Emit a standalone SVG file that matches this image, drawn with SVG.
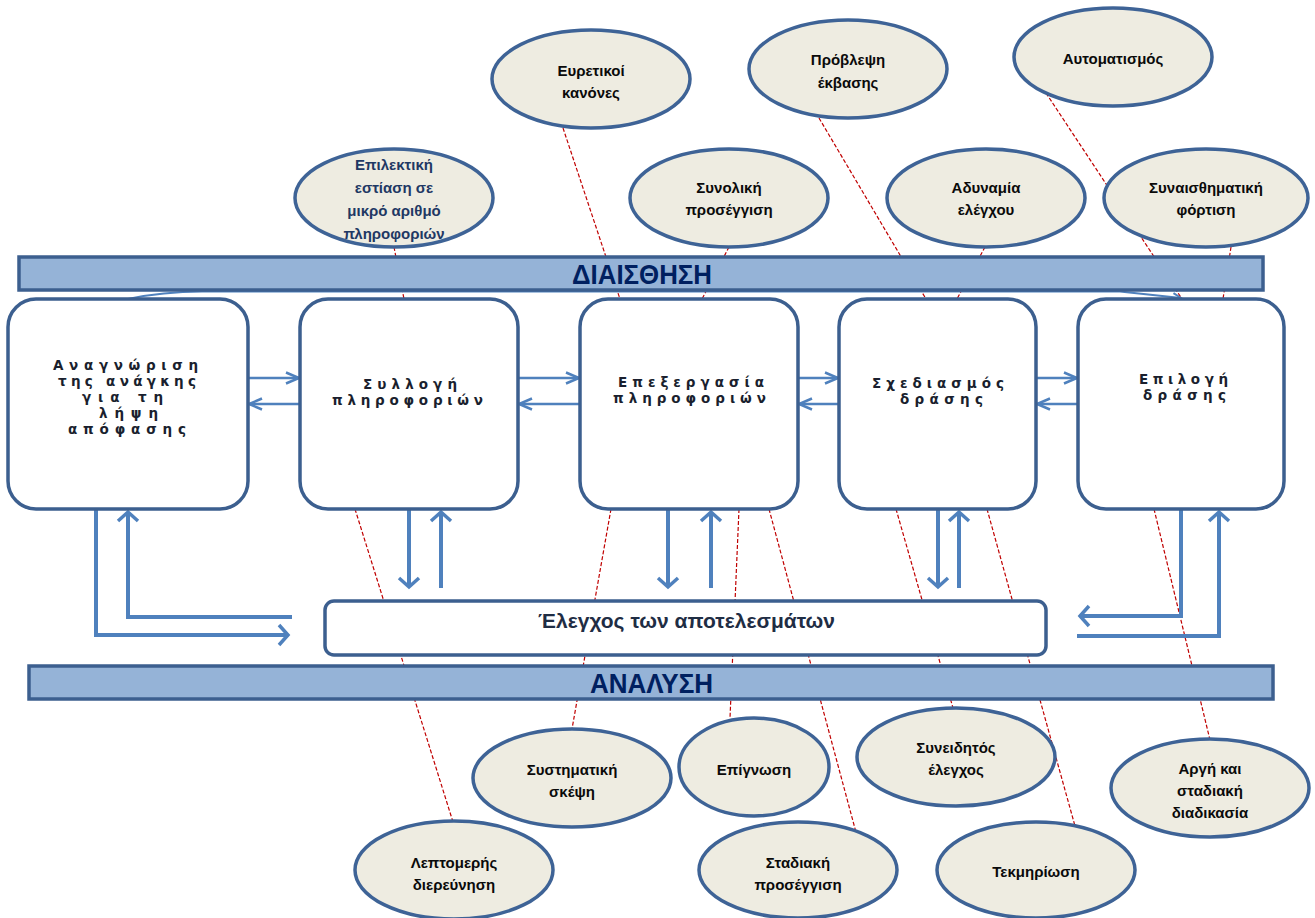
<svg xmlns="http://www.w3.org/2000/svg" width="1315" height="918" viewBox="0 0 1315 918">
  <defs>
    <style>
      .bar { fill: #95B3D7; stroke: #3C5F8F; stroke-width: 3.5; }
      .bar-label { font-family: "Liberation Sans", Arial, sans-serif; font-weight: bold; font-size: 28px; fill: #002060; }
      .step { fill: #FFFFFF; stroke: #3C5F8F; stroke-width: 3.5; }
      .step-label { font-family: "DejaVu Sans", Verdana, sans-serif; font-weight: bold; font-size: 13.5px; fill: #1A1F2E; }
      .check { fill: #FFFFFF; stroke: #3C5F8F; stroke-width: 3.5; }
      .check-label { font-family: "Liberation Sans", Arial, sans-serif; font-weight: bold; font-size: 21px; fill: #1F2D44; }
      .trait { fill: #EEECE1; stroke: #3E6396; stroke-width: 3.5; }
      .trait-label { font-family: "Liberation Sans", Arial, sans-serif; font-weight: bold; font-size: 15px; fill: #0A0A0A; text-anchor: middle; }
      .trait-label.navy { fill: #1F3864; }
      .flow { fill: none; stroke: #4F81BD; stroke-width: 2.5; }
      .flow-thick { fill: none; stroke: #4F81BD; stroke-width: 4; }
      .flow-thin { fill: none; stroke: #4F81BD; stroke-width: 2; }
      .link { fill: none; stroke: #C00000; stroke-width: 1.2; stroke-dasharray: 4 2; }
    </style>
    <marker id="head" markerUnits="userSpaceOnUse" viewBox="-16 -8 18 16" refX="0" refY="0" markerWidth="18" markerHeight="16" orient="auto" overflow="visible">
      <path d="M-13,-5.5 L0,0 L-13,5.5" fill="none" stroke="#4F81BD" stroke-width="2.5"/>
    </marker>
    <marker id="head-thick" markerUnits="userSpaceOnUse" viewBox="-12 -12 14 24" refX="0" refY="0" markerWidth="14" markerHeight="24" orient="auto" overflow="visible">
      <path d="M-9,-10 L0,0 L-9,10" fill="none" stroke="#4F81BD" stroke-width="3.5"/>
    </marker>
    <marker id="head-small" markerUnits="userSpaceOnUse" viewBox="-10 -6 12 12" refX="0" refY="0" markerWidth="12" markerHeight="12" orient="auto" overflow="visible">
      <path d="M-8,-4 L0,0 L-8,4" fill="none" stroke="#4F81BD" stroke-width="2"/>
    </marker>
  </defs>

  <rect width="1315" height="918" fill="#FFFFFF"/>

  <!-- connectors: dashed trait links, process flows -->
  <g id="connectors">
    <g id="trait-links">
      <line class="link" x1="394" y1="247" x2="404" y2="299"/>
      <line class="link" x1="563" y1="128" x2="620" y2="299"/>
      <line class="link" x1="729" y1="247" x2="702" y2="299"/>
      <line class="link" x1="819" y1="118" x2="926" y2="299"/>
      <line class="link" x1="985" y1="247" x2="957" y2="299"/>
      <line class="link" x1="1046" y1="93" x2="1182" y2="299"/>
      <line class="link" x1="1231" y1="247" x2="1223" y2="299"/>
      <line class="link" x1="355" y1="509" x2="453" y2="822"/>
      <line class="link" x1="611" y1="509" x2="572" y2="729"/>
      <line class="link" x1="739" y1="509" x2="730" y2="718"/>
      <line class="link" x1="769" y1="509" x2="857" y2="836"/>
      <line class="link" x1="896" y1="509" x2="953" y2="708"/>
      <line class="link" x1="987" y1="509" x2="1075" y2="826"/>
      <line class="link" x1="1154" y1="509" x2="1210" y2="740"/>
    </g>

    <!-- forward / backward flows between steps -->
    <g id="step-flows">
      <line class="flow" x1="248" y1="378" x2="299" y2="378" marker-end="url(#head)"/>
      <line class="flow" x1="300" y1="404" x2="249" y2="404" marker-end="url(#head)"/>
      <line class="flow" x1="518" y1="378" x2="579" y2="378" marker-end="url(#head)"/>
      <line class="flow" x1="580" y1="404" x2="519" y2="404" marker-end="url(#head)"/>
      <line class="flow" x1="798" y1="378" x2="838" y2="378" marker-end="url(#head)"/>
      <line class="flow" x1="839" y1="404" x2="799" y2="404" marker-end="url(#head)"/>
      <line class="flow" x1="1036" y1="378" x2="1077" y2="378" marker-end="url(#head)"/>
      <line class="flow" x1="1078" y1="404" x2="1037" y2="404" marker-end="url(#head)"/>
    </g>

    <!-- flows to and from the results check -->
    <g id="check-flows">
      <path class="flow-thick" d="M96,509 V635 H288" marker-end="url(#head-thick)"/>
      <path class="flow-thick" d="M292,617 H128 V512" marker-end="url(#head-thick)"/>
      <line class="flow-thick" x1="409" y1="509" x2="409" y2="587" marker-end="url(#head-thick)"/>
      <line class="flow-thick" x1="441" y1="588" x2="441" y2="512" marker-end="url(#head-thick)"/>
      <line class="flow-thick" x1="668" y1="509" x2="668" y2="587" marker-end="url(#head-thick)"/>
      <line class="flow-thick" x1="711" y1="588" x2="711" y2="512" marker-end="url(#head-thick)"/>
      <line class="flow-thick" x1="938" y1="509" x2="938" y2="587" marker-end="url(#head-thick)"/>
      <line class="flow-thick" x1="959" y1="588" x2="959" y2="512" marker-end="url(#head-thick)"/>
      <path class="flow-thick" d="M1181,509 V616 H1080" marker-end="url(#head-thick)"/>
      <path class="flow-thick" d="M1077,636 H1219 V512" marker-end="url(#head-thick)"/>
    </g>

    <!-- long link along the perception bar -->
    <path id="perception-link" class="flow-thin" d="M128,299 Q165,291 207,291.5 L1120,291.5 L1181,298" marker-end="url(#head-small)"/>
  </g>

  <!-- perception / analysis bars -->
  <g id="bar-perception">
    <rect class="bar" x="19" y="257" width="1244" height="33"/>
    <text class="bar-label" x="572" y="284" textLength="140" lengthAdjust="spacingAndGlyphs">ΔΙΑΙΣΘΗΣΗ</text>
  </g>
  <g id="bar-analysis">
    <rect class="bar" x="29" y="666" width="1244" height="33"/>
    <text class="bar-label" x="590" y="693" textLength="123" lengthAdjust="spacingAndGlyphs">ΑΝΑΛΥΣΗ</text>
  </g>

  <!-- decision steps -->
  <g id="step-need">
    <rect class="step" x="8" y="299" width="240" height="210" rx="28"/>
    <text class="step-label" x="53" y="370" textLength="145" lengthAdjust="spacing">Αναγνώριση</text>
    <text class="step-label" x="58" y="386" textLength="138" lengthAdjust="spacing">της ανάγκης</text>
    <text class="step-label" x="82" y="402" textLength="81" lengthAdjust="spacing">για τη</text>
    <text class="step-label" x="99" y="418" textLength="59" lengthAdjust="spacing">λήψη</text>
    <text class="step-label" x="68" y="434" textLength="118" lengthAdjust="spacing">απόφασης</text>
  </g>
  <g id="step-gather">
    <rect class="step" x="300" y="299" width="218" height="210" rx="28"/>
    <text class="step-label" x="363" y="389" textLength="94" lengthAdjust="spacing">Συλλογή</text>
    <text class="step-label" x="332" y="405" textLength="151" lengthAdjust="spacing">πληροφοριών</text>
  </g>
  <g id="step-process">
    <rect class="step" x="580" y="299" width="218" height="210" rx="28"/>
    <text class="step-label" x="618" y="387" textLength="146" lengthAdjust="spacing">Επεξεργασία</text>
    <text class="step-label" x="613" y="403" textLength="153" lengthAdjust="spacing">πληροφοριών</text>
  </g>
  <g id="step-plan">
    <rect class="step" x="839" y="299" width="197" height="210" rx="28"/>
    <text class="step-label" x="872" y="388" textLength="132" lengthAdjust="spacing">Σχεδιασμός</text>
    <text class="step-label" x="900" y="404" textLength="83" lengthAdjust="spacing">δράσης</text>
  </g>
  <g id="step-choose">
    <rect class="step" x="1078" y="299" width="206" height="210" rx="28"/>
    <text class="step-label" x="1139" y="384" textLength="89" lengthAdjust="spacing">Επιλογή</text>
    <text class="step-label" x="1143" y="400" textLength="83" lengthAdjust="spacing">δράσης</text>
  </g>

  <!-- results check -->
  <g id="step-check">
    <rect class="check" x="325" y="601" width="721" height="54" rx="9"/>
    <text class="check-label" x="538" y="628" textLength="297" lengthAdjust="spacing">Έλεγχος των αποτελεσμάτων</text>
  </g>

  <!-- traits above (perception) -->
  <g id="trait-heuristics">
    <ellipse class="trait" cx="591" cy="79" rx="99" ry="49"/>
    <text class="trait-label" x="591" y="76">Ευρετικοί</text>
    <text class="trait-label" x="591" y="98">κανόνες</text>
  </g>
  <g id="trait-prediction">
    <ellipse class="trait" cx="848" cy="69" rx="99" ry="49"/>
    <text class="trait-label" x="848" y="65">Πρόβλεψη</text>
    <text class="trait-label" x="848" y="88">έκβασης</text>
  </g>
  <g id="trait-automatism">
    <ellipse class="trait" cx="1113" cy="57" rx="99" ry="49"/>
    <text class="trait-label" x="1113" y="64">Αυτοματισμός</text>
  </g>
  <g id="trait-selective">
    <ellipse class="trait" cx="394" cy="198" rx="99" ry="49"/>
    <text class="trait-label navy" x="394" y="170">Επιλεκτική</text>
    <text class="trait-label navy" x="394" y="193">εστίαση σε</text>
    <text class="trait-label navy" x="394" y="216">μικρό αριθμό</text>
    <text class="trait-label navy" x="394" y="239">πληροφοριών</text>
  </g>
  <g id="trait-holistic">
    <ellipse class="trait" cx="729" cy="198" rx="99" ry="49"/>
    <text class="trait-label" x="729" y="193">Συνολική</text>
    <text class="trait-label" x="729" y="215">προσέγγιση</text>
  </g>
  <g id="trait-lack-control">
    <ellipse class="trait" cx="986" cy="198" rx="99" ry="49"/>
    <text class="trait-label" x="986" y="193">Αδυναμία</text>
    <text class="trait-label" x="986" y="215">ελέγχου</text>
  </g>
  <g id="trait-emotional">
    <ellipse class="trait" cx="1206" cy="198" rx="102" ry="49"/>
    <text class="trait-label" x="1206" y="193">Συναισθηματική</text>
    <text class="trait-label" x="1206" y="215">φόρτιση</text>
  </g>

  <!-- traits below (analysis) -->
  <g id="trait-systematic">
    <ellipse class="trait" cx="572" cy="778" rx="99" ry="49"/>
    <text class="trait-label" x="572" y="775">Συστηματική</text>
    <text class="trait-label" x="572" y="797">σκέψη</text>
  </g>
  <g id="trait-awareness">
    <ellipse class="trait" cx="754" cy="767" rx="75" ry="49"/>
    <text class="trait-label" x="754" y="775">Επίγνωση</text>
  </g>
  <g id="trait-conscious">
    <ellipse class="trait" cx="956" cy="757" rx="99" ry="49"/>
    <text class="trait-label" x="956" y="753">Συνειδητός</text>
    <text class="trait-label" x="956" y="775">έλεγχος</text>
  </g>
  <g id="trait-slow">
    <ellipse class="trait" cx="1210" cy="788" rx="99" ry="49"/>
    <text class="trait-label" x="1210" y="774">Αργή και</text>
    <text class="trait-label" x="1210" y="796">σταδιακή</text>
    <text class="trait-label" x="1210" y="818">διαδικασία</text>
  </g>
  <g id="trait-detailed">
    <ellipse class="trait" cx="454" cy="870" rx="99" ry="49"/>
    <text class="trait-label" x="454" y="868">Λεπτομερής</text>
    <text class="trait-label" x="454" y="890">διερεύνηση</text>
  </g>
  <g id="trait-gradual">
    <ellipse class="trait" cx="798" cy="870" rx="99" ry="48"/>
    <text class="trait-label" x="798" y="868">Σταδιακή</text>
    <text class="trait-label" x="798" y="890">προσέγγιση</text>
  </g>
  <g id="trait-documentation">
    <ellipse class="trait" cx="1036" cy="870" rx="99" ry="48"/>
    <text class="trait-label" x="1036" y="877">Τεκμηρίωση</text>
  </g>
</svg>
